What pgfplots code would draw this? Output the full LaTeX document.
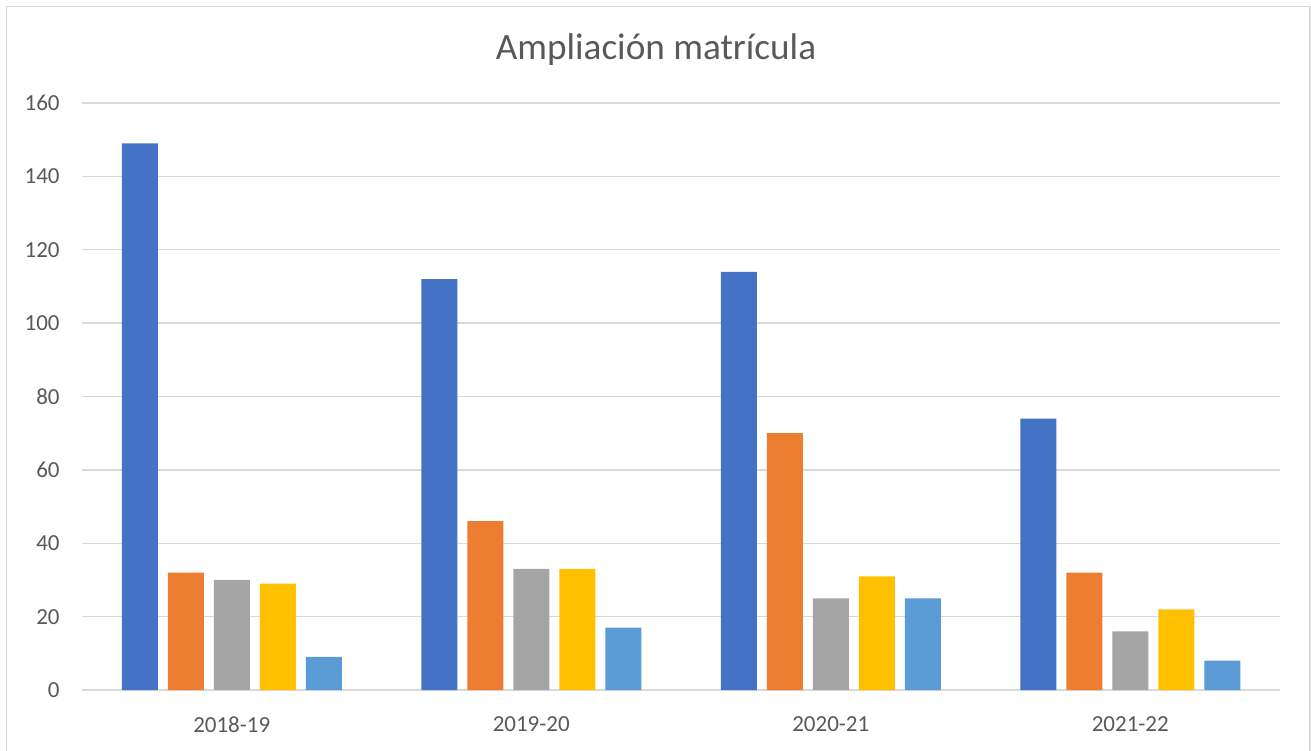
\documentclass[border=0pt]{standalone}
\usepackage{pgfplots}
\pgfplotsset{compat=1.18}
\usepackage{pgfplotstable}
\usepackage{fontspec}
\setmainfont{Carlito}

\definecolor{s1}{HTML}{4472C4}
\definecolor{s2}{HTML}{ED7D31}
\definecolor{s3}{HTML}{A5A5A5}
\definecolor{s4}{HTML}{FFC000}
\definecolor{s5}{HTML}{5B9BD5}
\definecolor{txt}{HTML}{595959}
\definecolor{grd}{HTML}{D9D9D9}

% values per course year (x = 0..3)
\pgfplotstableread{
x a b c d e
0 149 32 30 29 9
1 112 46 33 33 17
2 114 70 25 31 25
3 74 32 16 22 8
}\data

\begin{document}
\begin{tikzpicture}
% page = 655.5pt x 375pt (1311 x 750 px at 2 px/pt)
\useasboundingbox (0pt,0pt) rectangle (655.5pt,375pt);
\draw[grd, line width=0.8pt] (3.25pt,371.75pt) rectangle (655pt,-10pt);
\node[txt, font=\fontsize{18.6}{22}\selectfont] at (328pt,350pt) {Ampliación matrícula};
\begin{axis}[
  at={(41pt,30pt)}, anchor=south west,
  scale only axis, width=599pt, height=293.5pt,
  ybar=5pt, bar width=18pt,
  xmin=-0.5, xmax=3.5, ymin=0, ymax=160,
  xtick=data, xticklabels={2018-19,2019-20,2020-21,2021-22},
  ytick={0,20,...,160},
  major tick length=0pt,
  ymajorgrids, grid style={grd, line width=0.75pt},
  axis x line*=bottom, axis y line*=left,
  x axis line style={grd, line width=0.9pt},
  y axis line style={draw=none},
  tick label style={txt, font=\fontsize{11.5}{13}\selectfont},
  /pgf/number format/assume math mode=true,
  yticklabel style={inner sep=0pt, anchor=east, xshift=-11pt},
  xticklabel style={inner sep=0pt, anchor=north, yshift=-13pt},
  clip=false,
]
  \addplot[fill=s1, draw=none] table[x=x, y=a] {\data};
  \addplot[fill=s2, draw=none] table[x=x, y=b] {\data};
  \addplot[fill=s3, draw=none] table[x=x, y=c] {\data};
  \addplot[fill=s4, draw=none] table[x=x, y=d] {\data};
  \addplot[fill=s5, draw=none] table[x=x, y=e] {\data};
\end{axis}
\end{tikzpicture}
\end{document}
